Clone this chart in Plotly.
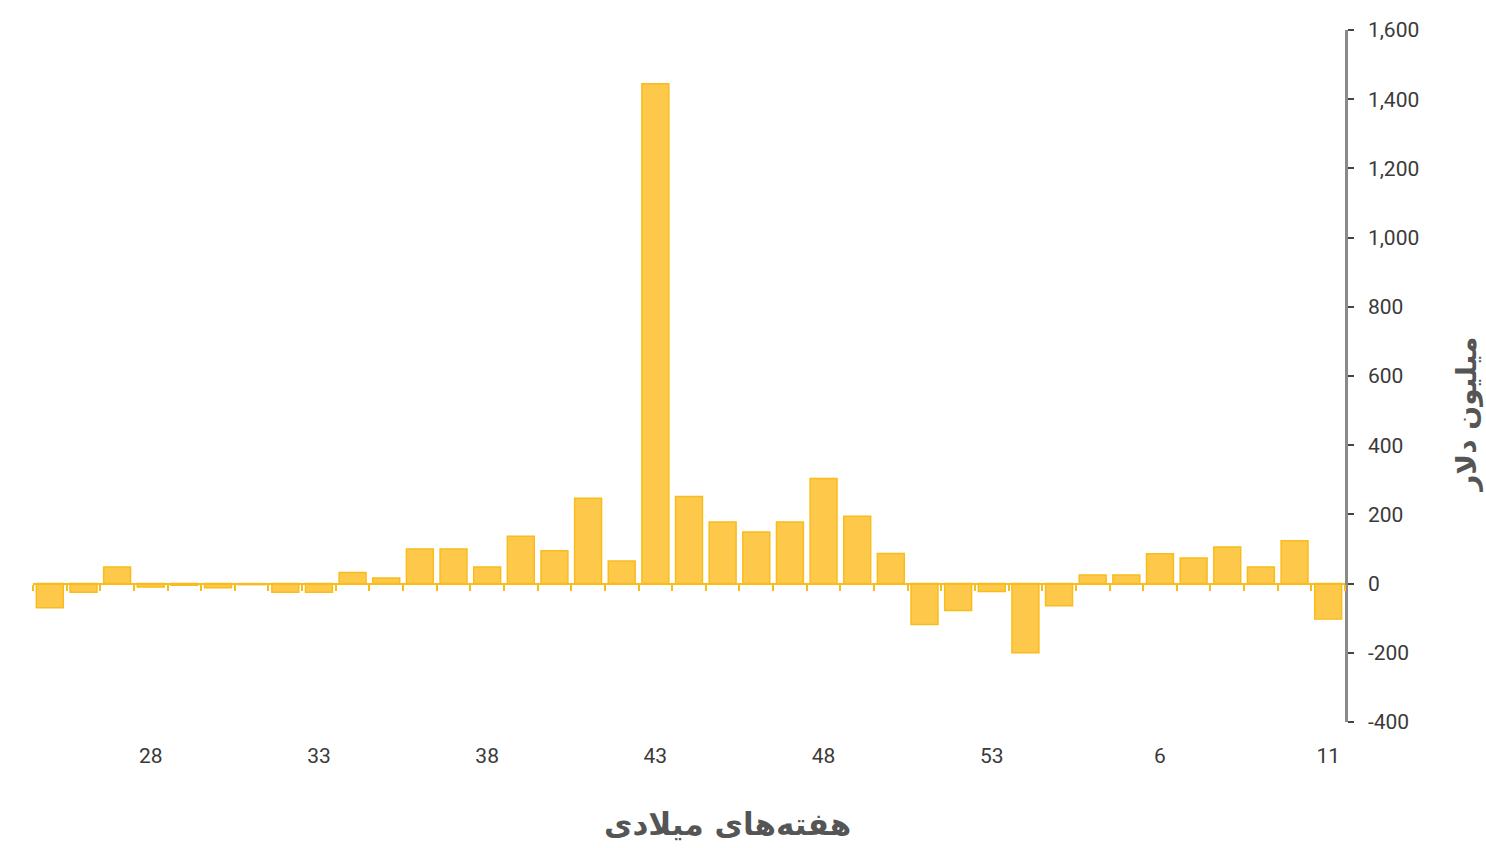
import plotly.graph_objects as go

weeks = [25, 26, 27, 28, 29, 30, 31, 32, 33, 34, 35, 36, 37, 38, 39, 40, 41, 42, 43,
         44, 45, 46, 47, 48, 49, 50, 51, 52, 53, 2, 3, 4, 5, 6, 7, 8, 9, 10, 11]
values = [-70, -25, 48, -10, -5, -12, -3, -25, -25, 32, 16, 100, 100, 48, 137, 95, 247, 65, 1445,
          252, 178, 149, 178, 304, 195, 87, -118, -78, -23, -200, -64, 25, 25, 86, 74, 106, 48, 124, -102]
label_weeks = [28, 33, 38, 43, 48, 53, 6, 11]
y_ticks = [-400, -200, 0, 200, 400, 600, 800, 1000, 1200, 1400, 1600]

idx = list(range(len(weeks)))
label_pos = [weeks.index(w) for w in label_weeks]
bar_fill = "#FEC94B"
bar_line = "#F8BC1C"

fig = go.Figure()
fig.add_trace(go.Bar(
    x=idx, y=values,
    marker=dict(color=bar_fill, line=dict(color=bar_line, width=1.5)),
    width=0.8, showlegend=False, hoverinfo="y",
))

xr = [-0.5, len(weeks) - 0.5]
ymin, ymax = -400, 1600
zero_pos = (0 - ymin) / (ymax - ymin)

fig.update_layout(
    width=1486, height=848,
    margin=dict(l=33, r=141, t=30, b=126, autoexpand=False),
    plot_bgcolor="white", paper_bgcolor="white",
    font=dict(family="Roboto, DejaVu Sans, sans-serif", color="#3a3a3a"),
    xaxis=dict(
        range=xr, anchor="free", position=zero_pos,
        showline=True, linecolor=bar_line, linewidth=2,
        tickmode="array", tickvals=[i - 0.5 for i in range(len(weeks) + 1)],
        ticks="outside", ticklen=6, tickwidth=1.5, tickcolor=bar_line,
        showticklabels=False, showgrid=False, zeroline=False,
    ),
    xaxis2=dict(
        range=xr, overlaying="x", anchor="y", side="bottom",
        tickmode="array", tickvals=label_pos, ticktext=[str(w) for w in label_weeks],
        ticks="", showline=False, showgrid=False, zeroline=False,
        ticklabelstandoff=19, tickfont=dict(size=21, color="#3a3a3a"),
    ),
    yaxis=dict(
        range=[ymin, ymax], side="right",
        showline=True, linecolor="#8a8a8a", linewidth=2.5,
        tickmode="array", tickvals=y_ticks, ticktext=[f"{v:,}" for v in y_ticks],
        ticks="outside", ticklen=6, tickwidth=2, tickcolor="#444",
        ticklabelstandoff=10,
        showgrid=False, zeroline=False,
        tickfont=dict(size=21, color="#3a3a3a"),
    ),
)

# invisible trace to activate xaxis2
fig.add_trace(go.Scatter(x=[xr[0]], y=[0], xaxis="x2", mode="markers",
                         marker=dict(opacity=0), showlegend=False, hoverinfo="skip"))

fig.add_annotation(
    text="هفته\u200cهای میلادی", xref="paper", yref="paper",
    x=0.529, y=-0.148, xanchor="center", yanchor="middle", showarrow=False,
    font=dict(size=31, color="#555555", family="DejaVu Sans, sans-serif", weight="bold"),
)
fig.add_annotation(
    text="میلیون دلار", xref="paper", yref="paper",
    x=1.093, y=0.444, xanchor="center", yanchor="middle", showarrow=False,
    textangle=-90,
    font=dict(size=28, color="#555555", family="DejaVu Sans, sans-serif", weight="bold"),
)

fig.write_html("out.html", config={"displayModeBar": False},
               post_script="document.body.style.margin='0';document.body.style.padding='0';")
